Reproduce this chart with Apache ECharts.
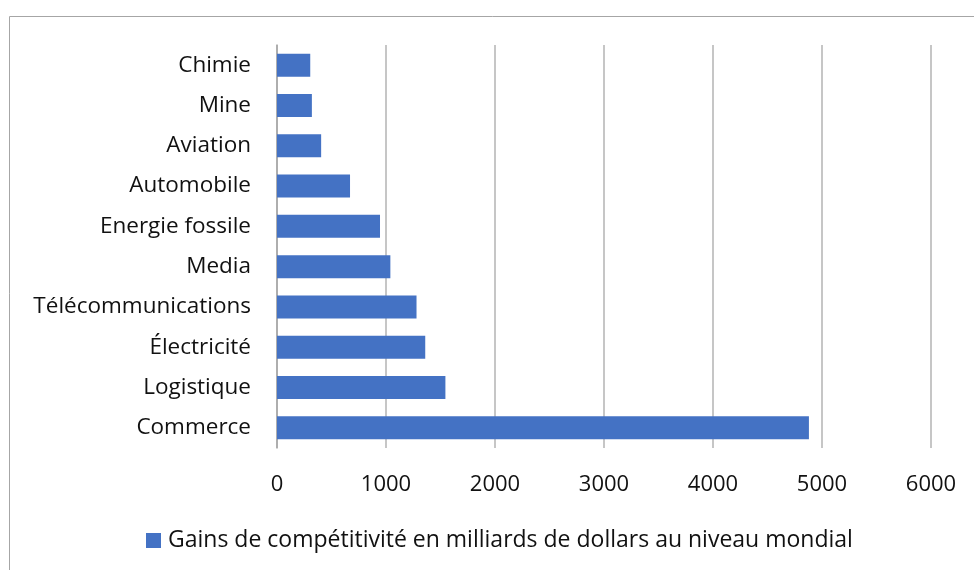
<!DOCTYPE html>
<html>
<head>
<meta charset="utf-8">
<script src="https://cdn.jsdelivr.net/npm/echarts@6/dist/echarts.min.js"></script>
<style>
  html, body { margin: 0; padding: 0; background: #fff; }
  #chart { width: 974px; height: 570px; }
</style>
</head>
<body>
<div id="chart"></div>
<script>
// secteurs, du bas vers le haut
const categories = ['Commerce', 'Logistique', 'Électricité', 'Télécommunications', 'Media',
  'Energie fossile', 'Automobile', 'Aviation', 'Mine', 'Chimie'];
const gains = [4880, 1545, 1360, 1280, 1040, 945, 670, 405, 320, 305];
const seriesName = 'Gains de compétitivité en milliards de dollars au niveau mondial';

const font = 'Open Sans';
const chart = echarts.init(document.getElementById('chart'));
chart.setOption({
  backgroundColor: '#fff',
  animation: false,
  textStyle: { fontFamily: font },
  graphic: [{
    type: 'rect',
    shape: { x: 9.5, y: 16.5, width: 1000, height: 600 },
    style: { fill: 'none', stroke: '#a6a6a6', lineWidth: 1 },
    silent: true
  }],
  grid: { left: 277, right: 43, top: 45, bottom: 122 },
  legend: {
    bottom: 13,
    left: 141,
    itemWidth: 15,
    itemHeight: 15,
    itemGap: 6,
    icon: 'rect',
    textStyle: { fontSize: 23, color: '#111', fontFamily: font, padding: [0, 0, 0, 2] },
    data: [seriesName]
  },
  xAxis: {
    type: 'value',
    min: 0,
    max: 6000,
    interval: 1000,
    axisLine: { show: false },
    axisTick: { show: false },
    axisLabel: { fontSize: 22, color: '#111', margin: 26, formatter: v => String(v) },
    splitLine: { lineStyle: { color: '#b3b3b3', width: 1.5 } }
  },
  yAxis: {
    type: 'category',
    data: categories,
    axisLine: { show: true, lineStyle: { color: '#a6a6a6', width: 1.5 } },
    axisTick: { show: false },
    axisLabel: { fontSize: 22.5, color: '#111', margin: 26 }
  },
  series: [{
    name: seriesName,
    type: 'bar',
    data: gains,
    barCategoryGap: '43%',
    itemStyle: { color: '#4472c4' }
  }]
});
</script>
</body>
</html>
